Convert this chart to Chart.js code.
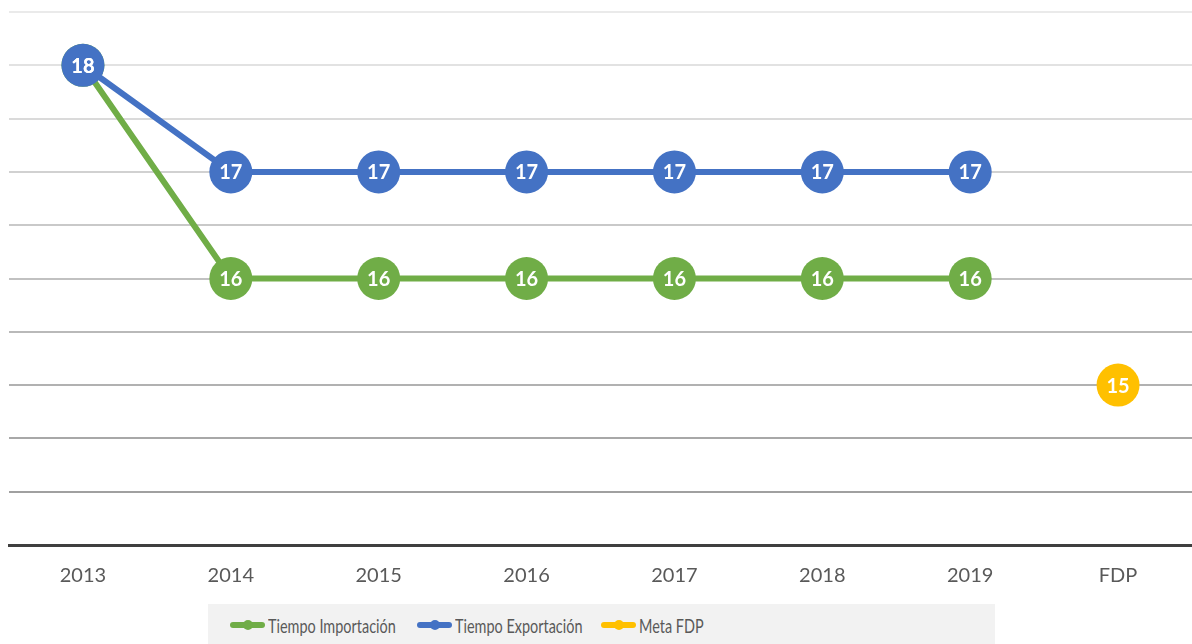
<!DOCTYPE html>
<html>
<head>
<meta charset="utf-8">
<script src="https://cdn.jsdelivr.net/npm/chart.js@4"></script>
<style>
    html, body { margin: 0; padding: 0; background: #fff; }
    #wrap { position: relative; width: 1192px; height: 644px; }
    #legend {
        position: absolute; left: 208px; top: 604px; width: 787px; height: 40px;
        background: #f2f2f2; font-family: Lato, sans-serif;
        font-size: 19px; color: #595959;
    }
    .item { position: absolute; top: 10px; display: flex; align-items: center; height: 22px; white-space: nowrap; }
    .item .txt { display: inline-block; transform: scaleX(0.76); transform-origin: left center; }
    .mark { position: relative; width: 35px; height: 6px; border-radius: 3px; margin-right: 3px; }
    .mark::after {
        content: ''; position: absolute; left: 13px; top: -2px; width: 10px; height: 10px;
        border-radius: 50%; background: inherit;
    }
</style>
</head>
<body>
<div id="wrap">
    <canvas id="chart" width="1192" height="644"></canvas>
    <div id="legend"></div>
</div>
<script>
const labels = ['2013', '2014', '2015', '2016', '2017', '2018', '2019', 'FDP'];
const importacion = [18, 16, 16, 16, 16, 16, 16, null];
const exportacion = [18, 17, 17, 17, 17, 17, 17, null];
const metaFdp = [null, null, null, null, null, null, null, 15];
const seriesNames = ['Tiempo Importación', 'Tiempo Exportación', 'Meta FDP'];
const seriesColors = ['#70ad47', '#4472c4', '#ffc000'];

// white number inside every point
const pointLabels = {
    id: 'pointLabels',
    afterDatasetsDraw(chart) {
        const ctx = chart.ctx;
        ctx.save();
        ctx.fillStyle = '#fff';
        ctx.font = 'bold 20px Lato, sans-serif';
        ctx.textAlign = 'center';
        ctx.textBaseline = 'middle';
        chart.data.datasets.forEach((ds, i) => {
            chart.getDatasetMeta(i).data.forEach((pt, j) => {
                if (ds.data[j] == null) return;
                ctx.fillText(ds.data[j], pt.x, pt.y + 1);
            });
        });
        ctx.restore();
    }
};

function gridGray(ctx) {
    // lines get lighter towards the top
    const n = 10;
    const v = Math.round(152 + ctx.index / n * 82);
    return `rgb(${v},${v},${v})`;
}

const ctx = document.getElementById('chart').getContext('2d');
new Chart(ctx, {
    type: 'line',
    data: {
        labels: labels,
        datasets: [importacion, exportacion, metaFdp].map((d, i) => ({
            label: seriesNames[i],
            data: d,
            borderColor: seriesColors[i],
            backgroundColor: seriesColors[i],
            borderWidth: 6,
            pointRadius: 21.5,
            pointHoverRadius: 21.5,
            pointBorderWidth: 0,
            order: i === 1 ? 1 : 2,
            spanGaps: false
        }))
    },
    options: {
        responsive: false,
        animation: false,
        layout: { autoPadding: false, padding: { left: 9, right: 0, top: 12, bottom: 37 } },
        plugins: { legend: { display: false }, tooltip: { enabled: false } },
        scales: {
            x: {
                offset: true,
                grid: { display: false, drawTicks: false },
                border: { display: true, color: '#3f3f3f', width: 3 },
                ticks: { color: '#595959', font: { family: 'Lato', size: 20 }, padding: 19 }
            },
            y: {
                min: 13.5,
                max: 18.5,
                ticks: { display: false, stepSize: 0.5 },
                grid: { color: gridGray, lineWidth: 2, drawTicks: false },
                border: { display: false }
            }
        }
    },
    plugins: [pointLabels]
});

// legend like the original, line with a dot
const legend = document.getElementById('legend');
const lefts = [22, 209, 393];
seriesNames.forEach((name, i) => {
    const item = document.createElement('div');
    item.className = 'item';
    item.style.left = lefts[i] + 'px';
    const mark = document.createElement('span');
    mark.className = 'mark';
    mark.style.background = seriesColors[i];
    const txt = document.createElement('span');
    txt.className = 'txt';
    txt.textContent = name;
    item.appendChild(mark);
    item.appendChild(txt);
    legend.appendChild(item);
});
</script>
</body>
</html>
